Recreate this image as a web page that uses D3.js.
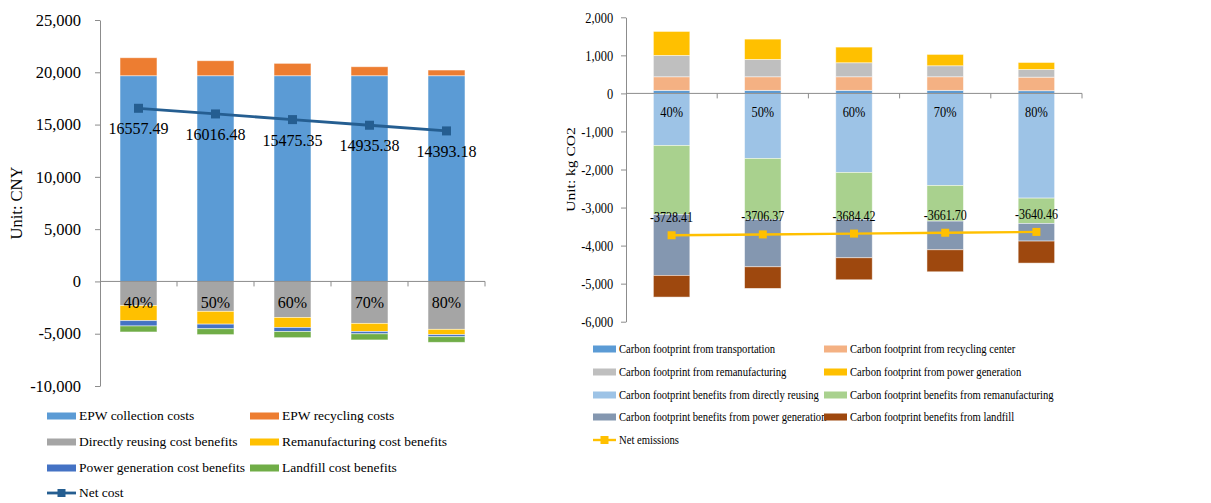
<!DOCTYPE html>
<html>
<head>
<meta charset="utf-8">
<script src="https://d3js.org/d3.v7.min.js"></script>
<style>
  body { margin: 0; background: #fff; }
  text { font-family: "Liberation Serif", "Times New Roman", serif; fill: #000; }
</style>
</head>
<body>
<svg id="chart" width="1211" height="503"></svg>
<script>
const ratios = ["40%", "50%", "60%", "70%", "80%"];

// left panel: costs (CNY)
const collectionCost = [19670, 19670, 19670, 19670, 19670];
const recyclingCost = [1720, 1434, 1185, 860, 545];
const reuseCostBenefit = [-2300, -2860, -3440, -4010, -4580];
const remanCostBenefit = [-1450, -1225, -960, -775, -510];
const powerCostBenefit = [-510, -440, -395, -225, -200];
const landfillCostBenefit = [-573, -563, -585, -585, -532];
const netCost = [16557.49, 16016.48, 15475.35, 14935.38, 14393.18];
const costTicks = [25000, 20000, 15000, 10000, 5000, 0, -5000, -10000];

// right panel: carbon footprint (kg CO2)
const cfTransport = [80, 80, 80, 80, 70];
const cfRecycling = [357, 357, 357, 357, 357];
const cfReman = [562, 456, 368, 289, 202];
const cfPower = [630, 534, 412, 299, 184];
const cfReuseBenefit = [-1367, -1708, -2076, -2418, -2752];
const cfRemanBenefit = [-1813, -1603, -1235, -938, -665];
const cfPowerBenefit = [-1603, -1246, -1009, -754, -464];
const cfLandfillBenefit = [-570, -568, -578, -578, -579];
const netEmissions = [-3728.41, -3706.37, -3684.42, -3661.70, -3640.46];
const carbonTicks = [2000, 1000, 0, -1000, -2000, -3000, -4000, -5000, -6000];

const svg = d3.select("#chart");
const axisColor = "#8c8c8c";
const comma = d3.format(",");
const fmtTick = d => (d < 0 ? "-" : "") + comma(Math.abs(d));
const fmtLabel = d => (d < 0 ? "-" : "") + Math.abs(d).toFixed(2);

// stack positives up and negatives down, series by series
function stackIt(series) {
  const pos = ratios.map(() => 0), neg = ratios.map(() => 0);
  const out = [];
  series.forEach(s => {
    s.values.forEach((v, i) => {
      let a, b;
      if (v >= 0) { a = pos[i]; b = pos[i] + v; pos[i] = b; }
      else { a = neg[i]; b = neg[i] + v; neg[i] = b; }
      out.push({ cat: ratios[i], a: a, b: b, color: s.color });
    });
  });
  return out;
}

function panel(cfg) {
  const g = svg.append("g");
  const sx = cfg.textScale;
  const x = d3.scaleBand().domain(ratios).range(cfg.xRange)
    .paddingInner(cfg.pad).paddingOuter(cfg.pad / 2);
  const y = d3.scaleLinear().domain(cfg.yDomain).range(cfg.yRange);
  const y0 = y(0);

  // y axis
  const yAxis = g.append("g")
    .attr("transform", `translate(${cfg.xRange[0]},0)`)
    .call(d3.axisLeft(y).tickValues(cfg.ticks).tickFormat(fmtTick)
      .tickSize(5).tickSizeOuter(0).tickPadding(cfg.tickPad));
  yAxis.select(".domain").attr("stroke", axisColor);
  yAxis.selectAll(".tick line").attr("stroke", axisColor);
  yAxis.selectAll("text").attr("font-size", cfg.tickFont)
    .attr("font-family", "Liberation Serif, Times New Roman, serif")
    .attr("transform", `scale(${sx},1)`);

  // bars
  g.append("g").selectAll("rect")
    .data(stackIt(cfg.series))
    .join("rect")
    .attr("x", d => x(d.cat))
    .attr("width", x.bandwidth())
    .attr("y", d => y(Math.max(d.a, d.b)))
    .attr("height", d => Math.abs(y(d.a) - y(d.b)))
    .attr("fill", d => d.color)
    .attr("stroke", "#ffffff")
    .attr("stroke-opacity", 0.6)
    .attr("stroke-width", 0.8);

  // category axis along zero
  const step = x.step();
  g.append("line")
    .attr("x1", cfg.xRange[0]).attr("x2", cfg.xRange[1])
    .attr("y1", y0).attr("y2", y0)
    .attr("stroke", axisColor);
  g.append("g").selectAll("line")
    .data(ratios)
    .join("line")
    .attr("x1", (d, i) => cfg.xRange[0] + step * (i + 1))
    .attr("x2", (d, i) => cfg.xRange[0] + step * (i + 1))
    .attr("y1", y0).attr("y2", y0 + 5)
    .attr("stroke", axisColor);
  g.append("g").selectAll("text")
    .data(ratios)
    .join("text")
    .attr("transform", d => `translate(${x(d) + x.bandwidth() / 2},${y0 + cfg.catOffset}) scale(${sx},1)`)
    .attr("text-anchor", "middle")
    .attr("font-size", cfg.catFont)
    .text(d => d);

  // net line
  const cx = d => x(d) + x.bandwidth() / 2;
  const pts = ratios.map((r, i) => ({ r: r, v: cfg.net[i] }));
  g.append("path")
    .datum(pts)
    .attr("fill", "none")
    .attr("stroke", cfg.netColor)
    .attr("stroke-width", cfg.netWidth)
    .attr("d", d3.line().x(d => cx(d.r)).y(d => y(d.v)));
  g.append("g").selectAll("rect")
    .data(pts)
    .join("rect")
    .attr("x", d => cx(d.r) - cfg.marker / 2)
    .attr("y", d => y(d.v) - cfg.marker / 2)
    .attr("width", cfg.marker).attr("height", cfg.marker)
    .attr("fill", cfg.netColor);
  g.append("g").selectAll("text")
    .data(pts)
    .join("text")
    .attr("transform", d => `translate(${cx(d.r)},${y(d.v) + cfg.labelOffset}) scale(${sx},1)`)
    .attr("text-anchor", "middle")
    .attr("font-size", cfg.labelFont)
    .text(d => fmtLabel(d.v));

  // axis title
  g.append("text")
    .attr("transform", `translate(${cfg.titleX},${(cfg.yRange[0] + cfg.yRange[1]) / 2}) scale(${sx},1) rotate(-90)`)
    .attr("text-anchor", "middle")
    .attr("font-size", cfg.titleFont)
    .text(cfg.title);

  // legend
  const lg = g.append("g");
  const items = cfg.series.concat([{ name: cfg.netName, color: cfg.netColor, line: true }]);
  items.forEach((s, i) => {
    const col = i % 2, row = Math.floor(i / 2);
    const lx = cfg.legX[col], ly = cfg.legY[row];
    if (s.line) {
      lg.append("line").attr("x1", lx).attr("x2", lx + cfg.swW)
        .attr("y1", ly).attr("y2", ly)
        .attr("stroke", s.color).attr("stroke-width", cfg.netWidth);
      lg.append("rect").attr("x", lx + cfg.swW / 2 - 4).attr("y", ly - 4)
        .attr("width", 8).attr("height", 8).attr("fill", s.color);
    } else {
      lg.append("rect").attr("x", lx).attr("y", ly - 3.5)
        .attr("width", cfg.swW).attr("height", 7).attr("fill", s.color);
    }
    lg.append("text")
      .attr("transform", `translate(${lx + cfg.swW + 3},${ly + cfg.legFont * 0.33}) scale(${sx},1)`)
      .attr("font-size", cfg.legFont)
      .text(s.name);
  });
}

panel({
  xRange: [100, 485], pad: 0.52,
  yDomain: [-10000, 25000], yRange: [386, 20], ticks: costTicks,
  tickPad: 14, tickFont: 16.5, textScale: 1,
  series: [
    { name: "EPW collection costs", color: "#5B9BD5", values: collectionCost },
    { name: "EPW recycling costs", color: "#ED7D31", values: recyclingCost },
    { name: "Directly reusing cost benefits", color: "#A5A5A5", values: reuseCostBenefit },
    { name: "Remanufacturing cost benefits", color: "#FFC000", values: remanCostBenefit },
    { name: "Power generation cost benefits", color: "#4472C4", values: powerCostBenefit },
    { name: "Landfill cost benefits", color: "#70AD47", values: landfillCostBenefit }
  ],
  net: netCost, netName: "Net cost", netColor: "#255E91", netWidth: 2.8, marker: 9,
  catOffset: 27, catFont: 16, labelOffset: 26, labelFont: 16,
  title: "Unit: CNY", titleX: 22, titleFont: 16.5,
  legX: [47, 250], legY: [416, 442, 468, 493], swW: 29, legFont: 13.5
});

panel({
  xRange: [626, 1082], pad: 0.6,
  yDomain: [-6000, 2000], yRange: [321.7, 17.3], ticks: carbonTicks,
  tickPad: 11, tickFont: 15.5, textScale: 0.8,
  series: [
    { name: "Carbon footprint from transportation", color: "#5B9BD5", values: cfTransport },
    { name: "Carbon footprint from recycling center", color: "#F4B183", values: cfRecycling },
    { name: "Carbon footprint from remanufacturing", color: "#BFBFBF", values: cfReman },
    { name: "Carbon footprint from power generation", color: "#FFC000", values: cfPower },
    { name: "Carbon footprint benefits from directly reusing", color: "#9DC3E6", values: cfReuseBenefit },
    { name: "Carbon footprint benefits from remanufacturing", color: "#A9D18E", values: cfRemanBenefit },
    { name: "Carbon footprint benefits from power generation", color: "#8497B0", values: cfPowerBenefit },
    { name: "Carbon footprint benefits from landfill", color: "#9E480E", values: cfLandfillBenefit }
  ],
  net: netEmissions, netName: "Net emissions", netColor: "#FFC000", netWidth: 2.4, marker: 8,
  catOffset: 24, catFont: 15.5, labelOffset: -13, labelFont: 15,
  title: "Unit: kg CO2", titleX: 575, titleFont: 15.5,
  legX: [593, 824], legY: [349, 372, 395, 417, 440], swW: 23, legFont: 13.3
});
</script>
</body>
</html>
